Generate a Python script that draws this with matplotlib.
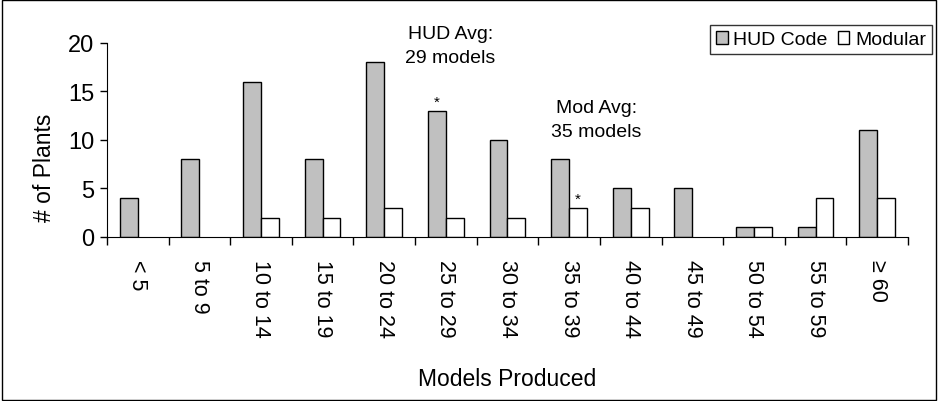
import numpy as np
import matplotlib.pyplot as plt
from matplotlib.patches import Patch

plt.rcParams['font.family'] = ['Liberation Sans', 'DejaVu Sans']

categories = ['< 5', '5 to 9', '10 to 14', '15 to 19', '20 to 24', '25 to 29',
              '30 to 34', '35 to 39', '40 to 44', '45 to 49', '50 to 54',
              '55 to 59', '≥ 60']
hud_code = [4, 8, 16, 8, 18, 13, 10, 8, 5, 5, 1, 1, 11]
modular = [0, 0, 2, 2, 3, 2, 2, 3, 3, 0, 1, 4, 4]

x = np.arange(len(categories))
w = 0.29
hud_color = '#c0c0c0'

fig = plt.figure(figsize=(9.38, 4.02), dpi=100)
ax = fig.add_axes([0.114, 0.408, 0.854, 0.483])

# empty categories get no outline
hud_edges = ['black' if v > 0 else 'none' for v in hud_code]
mod_edges = ['black' if v > 0 else 'none' for v in modular]
ax.bar(x - w / 2, hud_code, w, color=hud_color, edgecolor=hud_edges, linewidth=1)
ax.bar(x + w / 2, modular, w, color='white', edgecolor=mod_edges, linewidth=1)

# averages marked with an asterisk
ax.text(x[5] - w / 2, hud_code[5] + 0.2, '*', ha='center', va='bottom', fontsize=11)
ax.text(x[7] + w / 2, modular[7] + 0.2, '*', ha='center', va='bottom', fontsize=11)
ax.text(5.07, 19.75, 'HUD Avg:\n29 models', ha='center', va='center', fontsize=14, linespacing=1.55)
ax.text(7.44, 12.1, 'Mod Avg:\n35 models', ha='center', va='center', fontsize=14, linespacing=1.55)

ax.set_xlim(-0.5, len(categories) - 0.5)
ax.set_ylim(0, 20)
ax.set_yticks([0, 5, 10, 15, 20])
ax.tick_params(axis='y', labelsize=17, direction='out', length=5, width=1, pad=4)

ax.set_xticks(x)
ax.set_xticklabels(categories, rotation=270, fontsize=15.5, va='top', ha='center')
ax.set_xticks(np.arange(-0.5, len(categories)), minor=True)
ax.tick_params(axis='x', which='major', length=0, pad=16)
ax.tick_params(axis='x', which='minor', direction='out', length=6, width=1)

for side in ['top', 'right']:
    ax.spines[side].set_visible(False)

ax.set_ylabel('# of Plants', fontsize=16.5)
ax.yaxis.set_label_coords(-0.063, 0.36)
ax.set_xlabel('Models Produced', fontsize=16.5)
ax.xaxis.set_label_coords(0.5, -0.67)

handles = [Patch(facecolor=hud_color, edgecolor='black', linewidth=1, label='HUD Code'),
           Patch(facecolor='white', edgecolor='black', linewidth=1, label='Modular')]
leg = ax.legend(handles=handles, loc='upper right', bbox_to_anchor=(1.042, 1.14), ncol=2,
                fontsize=14, frameon=True, fancybox=False, edgecolor='black',
                handlelength=0.6, handleheight=0.6, handletextpad=0.3,
                columnspacing=0.5, borderpad=0.3)
leg.get_frame().set_linewidth(1)

# outer border
fig.patches.append(plt.Rectangle((0.002, 0.002), 0.996, 0.996, transform=fig.transFigure,
                                 fill=False, edgecolor='black', linewidth=1))

fig.savefig('out.png', dpi=100)
